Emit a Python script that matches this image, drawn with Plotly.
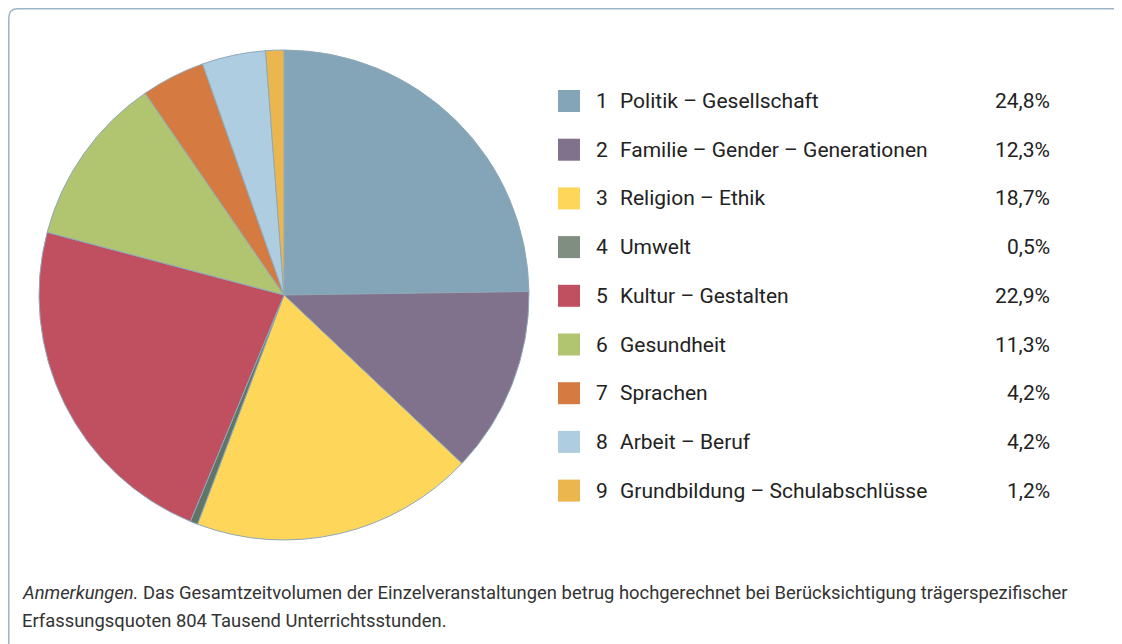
import plotly.graph_objects as go

numbers = ["1", "2", "3", "4", "5", "6", "7", "8", "9"]
labels = ["Politik – Gesellschaft", "Familie – Gender – Generationen", "Religion – Ethik",
          "Umwelt", "Kultur – Gestalten", "Gesundheit", "Sprachen", "Arbeit – Beruf",
          "Grundbildung – Schulabschlüsse"]
values = [24.8, 12.3, 18.7, 0.5, 22.9, 11.3, 4.2, 4.2, 1.2]
pct_labels = ["24,8%", "12,3%", "18,7%", "0,5%", "22,9%", "11,3%", "4,2%", "4,2%", "1,2%"]
slice_colors = ["#84a5b7", "#80718c", "#fdd65a", "#5f7568", "#c04f60", "#b1c46f", "#d57b41", "#afcde0", "#ecb64f"]
legend_colors = ["#84a5b7", "#80718c", "#fdd65a", "#7f8e80", "#c04f60", "#b1c46f", "#d57b41", "#afcde0", "#ecb64f"]

W, H = 1114, 636   # page body has an 8px margin
OFF = 8
FONT = "Roboto, Open Sans, sans-serif"

def px(x):
    return (x - OFF) / W

def py(y):
    return 1 - (y - OFF) / H

fig = go.Figure()
cx, cy, r = 284, 295, 245
fig.add_trace(go.Pie(
    labels=labels, values=values, sort=False, direction="clockwise", rotation=0,
    marker=dict(colors=slice_colors, line=dict(color="#8fa9b9", width=1)),
    textinfo="none", hoverinfo="label+percent", showlegend=False,
    domain=dict(x=[px(cx - r), px(cx + r)], y=[py(cy + r), py(cy - r)]),
))

shapes = []
# rounded frame
x0, y0 = 8.8, 8.8
rr = 9
x1, y1 = 1160, 700
path = (f"M {px(x0)},{py(y1)} L {px(x0)},{py(y0 + rr)} "
        f"Q {px(x0)},{py(y0)} {px(x0 + rr)},{py(y0)} L {px(x1)},{py(y0)}")
shapes.append(dict(type="path", xref="paper", yref="paper", path=path,
                   line=dict(color="#9bb5c5", width=1.5), fillcolor="rgba(0,0,0,0)"))

annotations = []
row0, step = 101, 48.7
LS = 21
for i in range(len(labels)):
    y = row0 + i * step
    shapes.append(dict(type="rect", xref="paper", yref="paper",
                       x0=px(558), x1=px(580), y0=py(y + 11), y1=py(y - 11),
                       fillcolor=legend_colors[i], line=dict(width=0)))
    annotations.append(dict(x=px(594), y=py(y), xref="paper", yref="paper", text=numbers[i],
                            showarrow=False, xanchor="left", yanchor="middle",
                            font=dict(family=FONT, size=LS, color="#222222")))
    annotations.append(dict(x=px(618), y=py(y), xref="paper", yref="paper", text=labels[i],
                            showarrow=False, xanchor="left", yanchor="middle",
                            font=dict(family=FONT, size=LS, color="#222222")))
    annotations.append(dict(x=px(1052), y=py(y), xref="paper", yref="paper", text=pct_labels[i],
                            showarrow=False, xanchor="right", yanchor="middle",
                            font=dict(family=FONT, size=LS, color="#222222")))

annotations.append(dict(x=px(20), y=py(592), xref="paper", yref="paper",
                        text="<i>Anmerkungen.</i> Das Gesamtzeitvolumen der Einzelveranstaltungen betrug hochgerechnet bei Berücksichtigung trägerspezifischer",
                        showarrow=False, xanchor="left", yanchor="middle",
                        font=dict(family=FONT, size=18.4, color="#333333")))
annotations.append(dict(x=px(20), y=py(620), xref="paper", yref="paper",
                        text="Erfassungsquoten 804 Tausend Unterrichtsstunden.",
                        showarrow=False, xanchor="left", yanchor="middle",
                        font=dict(family=FONT, size=18.4, color="#333333")))

fig.update_layout(width=W, height=H, margin=dict(l=0, r=0, t=0, b=0),
                  paper_bgcolor="white", plot_bgcolor="white",
                  shapes=shapes, annotations=annotations)
fig.write_html("out.html")
